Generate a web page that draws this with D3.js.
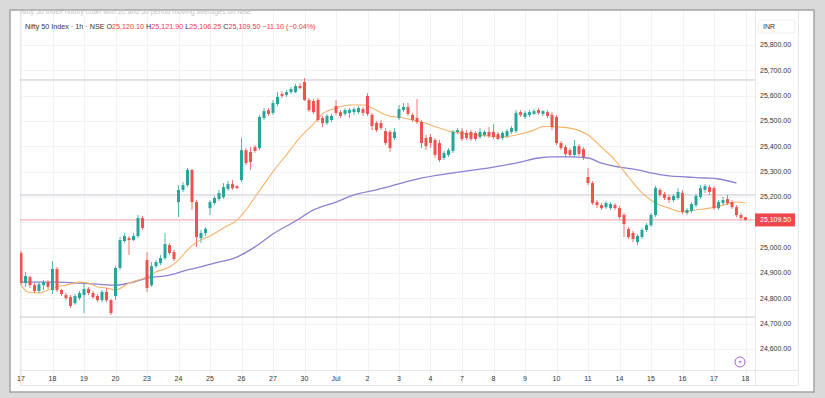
<!DOCTYPE html>
<html lang="en">
<head>
  <meta charset="UTF-8">
  <title>Nifty 50 Index - 1h - NSE</title>
  <script src="https://d3js.org/d3.v7.min.js"></script>
  <style>
    body { margin: 0; padding: 0; background: #dadada; }
    svg { display: block; }
    text { font-family: "Liberation Sans", Arial, sans-serif; }
    .axis-label { font-size: 7px; fill: #333; }
    .header { font-size: 7.2px; fill: #333; }
  </style>
</head>
<body>
  <script>
    // day labels under the chart, one every 7 hourly bars
    const dayLabels = ["17", "18", "19", "20", "23", "24", "25", "26", "27", "30", "Jul", "2",
      "3", "4", "7", "8", "9", "10", "11", "14", "15", "16", "17", "18"];
    const barsPerDay = 7;

    // hourly candles, Jun 17 09:15 -> Jul 18 09:15 (one row per day)
    const opens = [
      24979, 24860, 24884, 24852, 24829, 24852, 24864,
      24833, 24916, 24833, 24813, 24805, 24781, 24801,
      24813, 24837, 24821, 24809, 24793, 24825, 24793,
      24809, 24920, 25026, 25038, 25030, 25046, 25117,
      24951, 24852, 24927, 24939, 24959, 25010, 24983,
      25180, 25228, 25247, 25307, 25180, 25038, 25058,
      25156, 25176, 25192, 25200, 25232, 25251, 25243,
      25267, 25385, 25378, 25397, 25393, 25512, 25543,
      25532, 25567, 25607, 25603, 25614, 25614, 25638,
      25654, 25583, 25579, 25583, 25512, 25492, 25504,
      25559, 25535, 25528, 25532, 25535, 25535, 25547,
      25599, 25524, 25492, 25492, 25460, 25457, 25433,
      25512, 25543, 25555, 25524, 25512, 25496, 25433,
      25437, 25425, 25413, 25354, 25366, 25382, 25457,
      25460, 25453, 25457, 25453, 25437, 25445, 25457,
      25457, 25449, 25433, 25441, 25457, 25460, 25535,
      25516, 25524, 25528, 25543, 25528, 25535, 25524,
      25516, 25413, 25397, 25385, 25366, 25401, 25389,
      25279, 25255, 25180, 25168, 25160, 25156, 25168,
      25156, 25129, 25074, 25058, 25022, 25042, 25070,
      25089, 25129, 25228, 25212, 25200, 25188, 25196,
      25216, 25137, 25145, 25168, 25200, 25228, 25239,
      25235, 25156, 25176, 25192, 25180, 25160, 25129,
      25120.10
    ];
    const highs = [
      24987, 24904, 24888, 24860, 24864, 24872, 24872,
      24947, 24924, 24837, 24821, 24813, 24817, 24829,
      24860, 24845, 24829, 24817, 24833, 24841, 24797,
      24927, 25042, 25058, 25046, 25058, 25129, 25125,
      24983, 24943, 24951, 24971, 25058, 25018, 24991,
      25247, 25259, 25314, 25310, 25188, 25070, 25081,
      25188, 25204, 25228, 25255, 25263, 25267, 25247,
      25433, 25393, 25397, 25405, 25524, 25551, 25551,
      25583, 25614, 25618, 25622, 25634, 25646, 25650,
      25670, 25591, 25587, 25591, 25520, 25528, 25528,
      25583, 25543, 25551, 25551, 25555, 25559, 25555,
      25610, 25532, 25500, 25504, 25472, 25464, 25472,
      25563, 25571, 25571, 25532, 25587, 25504, 25445,
      25449, 25433, 25425, 25382, 25393, 25464, 25472,
      25472, 25464, 25464, 25460, 25472, 25464, 25476,
      25488, 25457, 25460, 25468, 25480, 25543, 25543,
      25539, 25543, 25547, 25551, 25543, 25543, 25535,
      25524, 25421, 25405, 25393, 25425, 25409, 25397,
      25314, 25263, 25188, 25176, 25184, 25180, 25176,
      25164, 25137, 25081, 25066, 25054, 25078, 25097,
      25137, 25243, 25235, 25220, 25208, 25212, 25235,
      25228, 25156, 25180, 25212, 25247, 25251, 25247,
      25243, 25188, 25200, 25208, 25188, 25168, 25137,
      25121.90
    ];
    const lows = [
      24852, 24845, 24841, 24821, 24821, 24833, 24837,
      24817, 24825, 24809, 24793, 24762, 24774, 24793,
      24742, 24813, 24797, 24785, 24785, 24785, 24734,
      24793, 24912, 25018, 24971, 25026, 25038, 25070,
      24825, 24845, 24920, 24931, 24951, 24971, 24947,
      25121, 25220, 25239, 25149, 25003, 25018, 25046,
      25129, 25168, 25184, 25192, 25224, 25228, 25232,
      25259, 25326, 25307, 25374, 25385, 25504, 25520,
      25524, 25559, 25591, 25595, 25607, 25610, 25626,
      25579, 25535, 25528, 25496, 25476, 25484, 25496,
      25524, 25512, 25520, 25512, 25524, 25528, 25520,
      25520, 25464, 25457, 25464, 25405, 25378, 25425,
      25504, 25535, 25520, 25496, 25488, 25393, 25385,
      25393, 25354, 25338, 25346, 25358, 25374, 25449,
      25421, 25425, 25421, 25421, 25429, 25437, 25433,
      25429, 25425, 25425, 25433, 25449, 25453, 25516,
      25508, 25516, 25524, 25524, 25520, 25512, 25464,
      25405, 25385, 25358, 25358, 25358, 25362, 25346,
      25247, 25168, 25156, 25149, 25153, 25149, 25149,
      25113, 25042, 25034, 25022, 25010, 25034, 25062,
      25081, 25121, 25200, 25188, 25176, 25180, 25188,
      25133, 25129, 25137, 25160, 25192, 25216, 25208,
      25149, 25149, 25168, 25168, 25153, 25121, 25109,
      25106.25
    ];
    const closes = [
      24860, 24888, 24852, 24829, 24856, 24864, 24845,
      24916, 24833, 24817, 24801, 24770, 24809, 24821,
      24837, 24821, 24805, 24793, 24825, 24793, 24742,
      24920, 25030, 25046, 25030, 25046, 25117, 25078,
      24841, 24927, 24943, 24959, 25014, 24979, 24955,
      25228, 25247, 25307, 25180, 25042, 25058, 25074,
      25180, 25196, 25216, 25239, 25251, 25235, 25235,
      25385, 25334, 25338, 25382, 25516, 25539, 25528,
      25571, 25595, 25599, 25614, 25626, 25638, 25630,
      25583, 25543, 25535, 25504, 25492, 25520, 25520,
      25532, 25520, 25543, 25543, 25547, 25551, 25532,
      25528, 25480, 25464, 25472, 25413, 25393, 25457,
      25547, 25555, 25528, 25504, 25496, 25413, 25401,
      25413, 25366, 25346, 25374, 25385, 25457, 25464,
      25429, 25433, 25429, 25429, 25457, 25457, 25441,
      25437, 25429, 25453, 25460, 25472, 25532, 25524,
      25532, 25535, 25539, 25532, 25539, 25520, 25476,
      25413, 25393, 25370, 25366, 25401, 25370, 25358,
      25255, 25176, 25168, 25156, 25176, 25172, 25156,
      25121, 25093, 25042, 25034, 25046, 25070, 25089,
      25129, 25235, 25208, 25196, 25188, 25204, 25220,
      25141, 25149, 25172, 25204, 25235, 25243, 25220,
      25156, 25180, 25188, 25176, 25160, 25129, 25117,
      25109.50
    ];

    // moving averages: bar index and value
    const fastMaBars = [0, 1.5, 4, 6, 8, 10, 13, 15, 17, 19, 21, 24, 26, 28, 30, 33, 35, 37, 39, 42,
      45, 48, 50, 52, 54, 56, 58, 60, 62, 65, 67, 70, 73, 76, 78, 81, 85, 89, 93, 96, 99, 104, 107,
      111, 114, 116, 120, 123, 126, 129, 132, 135, 138, 141, 144, 147, 150, 153, 156, 159, 161];
    const fastMaValues = [24852, 24825, 24821, 24833, 24845, 24852, 24864, 24860, 24845, 24841,
      24833, 24860, 24872, 24884, 24904, 24924, 24951, 24991, 25022, 25046, 25078, 25109, 25149,
      25200, 25250, 25300, 25345, 25390, 25435, 25488, 25528, 25551, 25563, 25563, 25551, 25524,
      25512, 25496, 25472, 25457, 25449, 25441, 25437, 25449, 25464, 25478, 25476, 25468, 25445,
      25397, 25346, 25279, 25216, 25176, 25156, 25141, 25149, 25156, 25168, 25180, 25176];
    const slowMaBars = [0, 8, 13, 17, 21, 24, 28, 33, 37, 39, 43, 48, 52, 56, 61, 65, 70, 74, 79,
      88, 96, 105, 111, 115, 118, 122, 126, 129, 133, 137, 140, 144, 148, 152, 155, 159];
    const slowMaValues = [24864, 24864, 24860, 24856, 24852, 24860, 24880, 24892, 24912, 24920,
      24939, 24963, 25003, 25054, 25105, 25149, 25180, 25208, 25228, 25271, 25295, 25318, 25338,
      25354, 25358, 25358, 25354, 25334, 25318, 25307, 25295, 25283, 25279, 25275, 25271, 25255];

    // horizontal lines drawn on the chart and the last price
    const drawnLevels = [25662, 25208, 24726];
    const lastPrice = 25109.50;

    const width = 825, height = 398;
    const plot = { left: 20, right: 755, top: 11, bottom: 370 };

    const svg = d3.select("body").append("svg")
      .attr("width", width)
      .attr("height", height);

    svg.append("rect").attr("width", width).attr("height", height).attr("fill", "#dadada");
    svg.append("rect")
      .attr("x", 10).attr("y", 10).attr("width", 804).attr("height", 382)
      .attr("fill", "#fff").attr("stroke", "#a3a3a3").attr("stroke-width", 1.5);

    const x = d3.scaleLinear().domain([0, closes.length - 1]).range([21, 745.5]);
    const y = d3.scaleLinear().domain([24600, 25800]).range([349, 45]);

    svg.append("clipPath").attr("id", "clip")
      .append("rect")
      .attr("x", plot.left).attr("y", plot.top)
      .attr("width", plot.right - plot.left).attr("height", plot.bottom - plot.top);

    // grid
    const dayIdx = dayLabels.map((d, i) => i * barsPerDay);
    const grid = svg.append("g").attr("stroke", "#f1f2f5").attr("stroke-width", 1);
    grid.selectAll("line.v").data(dayIdx).join("line")
      .attr("x1", d => Math.round(x(d)) + 0.5).attr("x2", d => Math.round(x(d)) + 0.5)
      .attr("y1", plot.top).attr("y2", 385);
    const priceTicks = y.ticks(12);
    grid.selectAll("line.h").data(priceTicks).join("line")
      .attr("x1", plot.left).attr("x2", plot.right)
      .attr("y1", d => Math.round(y(d)) + 0.5).attr("y2", d => Math.round(y(d)) + 0.5);

    // axis frame lines
    const frame = svg.append("g").attr("stroke", "#e6e7ea").attr("stroke-width", 1);
    frame.append("line").attr("x1", plot.left).attr("x2", 798).attr("y1", plot.bottom + 0.5).attr("y2", plot.bottom + 0.5);
    frame.append("line").attr("x1", plot.left).attr("x2", 798).attr("y1", 385.5).attr("y2", 385.5);
    frame.append("line").attr("x1", plot.left + 0.5).attr("x2", plot.left + 0.5).attr("y1", plot.top).attr("y2", 385);
    frame.append("line").attr("x1", plot.right + 0.5).attr("x2", plot.right + 0.5).attr("y1", plot.top).attr("y2", 385);
    frame.append("line").attr("x1", 798.5).attr("x2", 798.5).attr("y1", plot.top).attr("y2", 385);

    const chart = svg.append("g").attr("clip-path", "url(#clip)");

    // drawn levels
    chart.selectAll("line.level").data(drawnLevels).join("line")
      .attr("x1", plot.left).attr("x2", plot.right)
      .attr("y1", d => y(d)).attr("y2", d => y(d))
      .attr("stroke", "#c4c6cc").attr("stroke-width", 1);

    // last price line
    chart.append("line")
      .attr("x1", plot.left).attr("x2", plot.right)
      .attr("y1", y(lastPrice)).attr("y2", y(lastPrice))
      .attr("stroke", "#f7a0a3").attr("stroke-width", 1);

    // moving averages
    const maLine = d3.line()
      .x(d => x(d[0])).y(d => y(d[1]))
      .curve(d3.curveMonotoneX);
    chart.append("path")
      .datum(slowMaBars.map((b, i) => [b, slowMaValues[i]]))
      .attr("d", maLine)
      .attr("fill", "none").attr("stroke", "#8d7fd1").attr("stroke-width", 1.3);
    chart.append("path")
      .datum(fastMaBars.map((b, i) => [b, fastMaValues[i]]))
      .attr("d", maLine)
      .attr("fill", "none").attr("stroke", "#f8b26a").attr("stroke-width", 1.1);

    // candles
    const up = "#26a69a", down = "#ef5350";
    const candles = closes.map((c, i) => ({ i, o: opens[i], h: highs[i], l: lows[i], c }));
    const cg = chart.append("g").selectAll("g").data(candles).join("g");
    cg.append("line")
      .attr("x1", d => x(d.i)).attr("x2", d => x(d.i))
      .attr("y1", d => y(d.h)).attr("y2", d => y(d.l))
      .attr("stroke", d => d.c >= d.o ? up : down)
      .attr("stroke-width", 0.8);
    cg.append("rect")
      .attr("x", d => x(d.i) - 1.5)
      .attr("width", 3)
      .attr("y", d => y(Math.max(d.o, d.c)))
      .attr("height", d => Math.max(1, Math.abs(y(d.o) - y(d.c))))
      .attr("fill", d => d.c >= d.o ? up : down);

    // price axis (the tick hidden under the last-price tag is skipped)
    const fmt = d3.format(",.2f");
    svg.append("g").selectAll("text")
      .data(priceTicks.filter(d => Math.abs(y(d) - y(lastPrice)) > 9))
      .join("text")
      .attr("class", "axis-label")
      .attr("x", 760).attr("y", d => y(d)).attr("dy", "0.35em")
      .text(d => fmt(d));

    svg.append("rect")
      .attr("x", 758).attr("y", 20).attr("width", 37).attr("height", 13).attr("rx", 3)
      .attr("fill", "#fff").attr("stroke", "#eceef2");
    svg.append("text").attr("class", "axis-label")
      .attr("x", 763).attr("y", 29).text("INR");

    // last price tag
    svg.append("rect")
      .attr("x", 755).attr("y", y(lastPrice) - 6.5).attr("width", 40).attr("height", 13)
      .attr("fill", "#f0474f");
    svg.append("text").attr("class", "axis-label")
      .attr("x", 760).attr("y", y(lastPrice)).attr("dy", "0.35em")
      .attr("fill", "#fff").style("fill", "#fff")
      .text(fmt(lastPrice));

    // time axis
    svg.append("g").selectAll("text").data(dayLabels).join("text")
      .attr("class", "axis-label")
      .attr("x", (d, i) => x(dayIdx[i])).attr("y", 380.5)
      .attr("text-anchor", "middle")
      .text(d => d);

    // header legend
    const header = svg.append("text").attr("class", "header").attr("x", 25).attr("y", 28.5);
    header.append("tspan").text("Nifty 50 Index · 1h · NSE  ");
    const red = "#f23645";
    [["O", fmt(opens[opens.length - 1])], ["H", fmt(highs[highs.length - 1])],
     ["L", fmt(lows[lows.length - 1])], ["C", fmt(lastPrice)]].forEach(([k, v]) => {
      header.append("tspan").text(k);
      header.append("tspan").attr("fill", red).style("fill", red).text(v + "  ");
    });
    header.append("tspan").attr("fill", red).style("fill", red).text("−11.10 (−0.04%)");

    // faint caption cut off by the top edge
    svg.append("text")
      .attr("x", 20).attr("y", 14)
      .attr("font-size", 7).attr("fill", "#c4c4c4")
      .text("Nifty 50 Index hourly chart with 20 and 50 period moving averages on NSE");

    // small badge bottom right
    const badge = svg.append("g").attr("transform", `translate(740,362)`);
    badge.append("circle").attr("r", 5).attr("fill", "#fff").attr("stroke", "#a25fd0").attr("stroke-width", 1);
    badge.append("path").attr("d", "M1,-3 L-1.5,0.5 L0.5,0.5 L-1,3 L1.8,-0.8 L-0.2,-0.8 Z").attr("fill", "#a25fd0");
  </script>
</body>
</html>
